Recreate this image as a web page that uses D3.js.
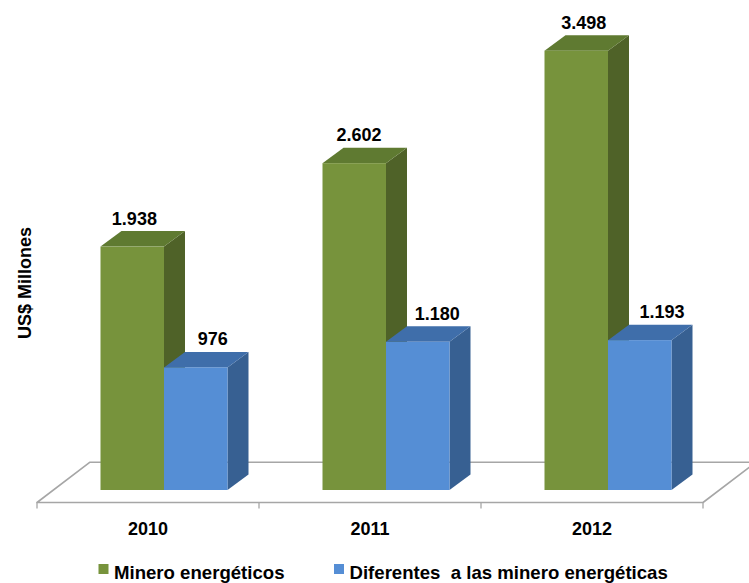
<!DOCTYPE html>
<html>
<head>
<meta charset="utf-8">
<script src="https://cdn.jsdelivr.net/npm/d3@7"></script>
<style>
  html, body { margin: 0; padding: 0; background: #fff; }
  svg { display: block; font-family: "Liberation Sans", Arial, sans-serif; }
</style>
</head>
<body>
<svg id="chart" width="749" height="583"></svg>
<script>
// ---- data ----
const years = ["2010", "2011", "2012"];
const seriesNames = ["Minero energéticos", "Diferentes  a las minero energéticas"];
const mineroEnergeticos = [1938, 2602, 3498];
const diferentes = [976, 1180, 1193];
const valueLabels = [["1.938", "2.602", "3.498"], ["976", "1.180", "1.193"]];
const yAxisTitle = "US$ Millones";

// ---- styles ----
const colors = [
  { front: "#77933C", top: "#5F7A31", side: "#4F6228" },
  { front: "#558ED5", top: "#3F6EAA", side: "#376092" }
];
const seriesValues = [mineroEnergeticos, diferentes];

const svg = d3.select("#chart");

// geometry
const floorFrontY = 502.5, floorDepthX = 53, floorDepthY = -40.3;
const barBaseY = 490;
const depthX = 21, depthY = -15.5;

const x0 = d3.scaleBand().domain(years).range([37, 703]).paddingInner(0).paddingOuter(0);
const x1 = d3.scaleBand().domain([0, 1]).range([63.5, 190.5]).padding(0);
const y = d3.scaleLinear().domain([0, 3500]).range([barBaseY, barBaseY - 3500 * 0.1256]);

// ---- floor ----
const fl = x0.range()[0], fr = x0.range()[1];
const floorPts = [
  [fl, floorFrontY],
  [fr, floorFrontY],
  [fr + floorDepthX, floorFrontY + floorDepthY],
  [fl + floorDepthX, floorFrontY + floorDepthY]
];
svg.append("path")
  .attr("d", d3.line()(floorPts) + "Z")
  .attr("fill", "#fff")
  .attr("stroke", "#A6A6A6")
  .attr("stroke-width", 1.6)
  .attr("stroke-linejoin", "round");

// x axis ticks under the front edge
const tickXs = years.map(d => x0(d)).concat([fr]);
svg.selectAll("line.tick").data(tickXs).enter().append("line")
  .attr("class", "tick")
  .attr("x1", d => d).attr("x2", d => d)
  .attr("y1", floorFrontY).attr("y2", floorFrontY + 6)
  .attr("stroke", "#A6A6A6").attr("stroke-width", 1.3);

svg.selectAll("text.xlab").data(years).enter().append("text")
  .attr("class", "xlab")
  .attr("x", d => x0(d) + x0.bandwidth() / 2)
  .attr("y", 535)
  .attr("text-anchor", "middle")
  .attr("font-size", 18).attr("font-weight", "bold").attr("fill", "#000")
  .text(d => d);

// ---- bars ----
const bars = [];
years.forEach((yr, i) => {
  [0, 1].forEach(s => {
    bars.push({ yr, i, s, v: seriesValues[s][i], label: valueLabels[s][i] });
  });
});

const g = svg.append("g");
bars.forEach(b => {
  const xl = x0(b.yr) + x1(b.s);
  const xr = xl + x1.bandwidth();
  const yt = y(b.v);
  const yb = y(0);
  const c = colors[b.s];
  const bg = g.append("g");
  // side
  bg.append("path")
    .attr("d", d3.line()([[xr, yb], [xr + depthX, yb + depthY], [xr + depthX, yt + depthY], [xr, yt]]) + "Z")
    .attr("fill", c.side);
  // top
  bg.append("path")
    .attr("d", d3.line()([[xl, yt], [xl + depthX, yt + depthY], [xr + depthX, yt + depthY], [xr, yt]]) + "Z")
    .attr("fill", c.top);
  // front
  bg.append("rect")
    .attr("x", xl).attr("y", yt)
    .attr("width", xr - xl).attr("height", yb - yt)
    .attr("fill", c.front);
  // label
  const frontCenter = (xl + xr) / 2;
  const off = (b.s === 0 ? 5 : 19) + 0.012 * (frontCenter - 370);
  bg.append("text")
    .attr("x", frontCenter + off)
    .attr("y", yt + depthY - 6.5)
    .attr("text-anchor", "middle")
    .attr("font-size", 18).attr("font-weight", "bold").attr("fill", "#000")
    .text(b.label);
});

// ---- y axis title ----
svg.append("text")
  .attr("transform", "translate(31,283) rotate(-90)")
  .attr("text-anchor", "middle")
  .attr("font-size", 18).attr("font-weight", "bold").attr("fill", "#000")
  .text(yAxisTitle);

// ---- legend ----
const legendX = [98.5, 334];
const lg = svg.append("g");
seriesNames.forEach((name, s) => {
  lg.append("rect")
    .attr("x", legendX[s]).attr("y", 564)
    .attr("width", 10).attr("height", 10)
    .attr("fill", colors[s].front);
  lg.append("text")
    .attr("x", legendX[s] + 15.5).attr("y", 578.5)
    .attr("font-size", 18.6).attr("font-weight", "bold").attr("fill", "#000")
    .attr("xml:space", "preserve")
    .style("white-space", "pre")
    .text(name);
});
</script>
</body>
</html>
